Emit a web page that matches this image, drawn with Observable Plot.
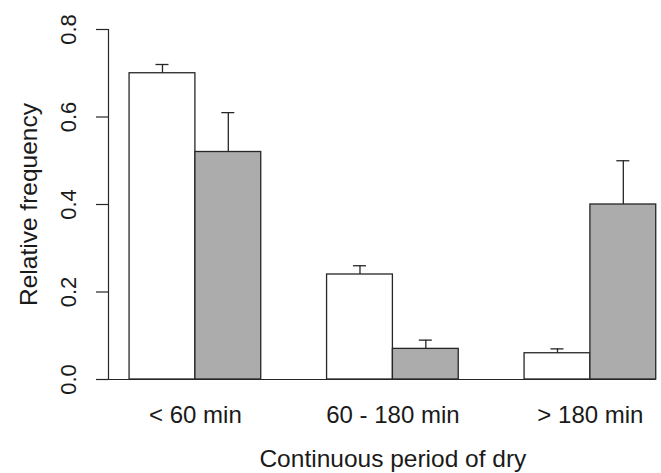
<!DOCTYPE html>
<html>
<head>
<meta charset="utf-8">
<script src="https://cdn.jsdelivr.net/npm/d3@7"></script>
<script src="https://cdn.jsdelivr.net/npm/@observablehq/plot@0.6"></script>
<style>
  html, body { margin: 0; padding: 0; background: #fff; }
</style>
</head>
<body>
<div id="chart"></div>
<script>
// ---- data ----
const categories = ["< 60 min", "60 - 180 min", "> 180 min"];
const series = ["first", "second"];
const seriesFill = ["#ffffff", "#acacac"];
const firstMeans = [0.70, 0.24, 0.06];
const firstUpper = [0.72, 0.26, 0.07];
const secondMeans = [0.52, 0.07, 0.40];
const secondUpper = [0.61, 0.09, 0.50];
const yTicks = [0, 0.2, 0.4, 0.6, 0.8];
const yTickLabels = ["0.0", "0.2", "0.4", "0.6", "0.8"];
const xTitle = "Continuous period of dry";
const yTitle = "Relative frequency";

// ---- grouped barplot layout (bar width 1, no space inside a group, 1 between groups) ----
const means = [firstMeans, secondMeans];
const uppers = [firstUpper, secondUpper];
const rows = [];
categories.forEach((cat, g) => {
  series.forEach((s, i) => {
    const left = 1 + g * (series.length + 1) + i;
    rows.push({cat, series: s, fill: seriesFill[i], left, right: left + 1,
               mid: left + 0.5, value: means[i][g], upper: uppers[i][g]});
  });
});
const groups = categories.map((cat, g) => {
  const left = 1 + g * (series.length + 1);
  return {cat, mid: left + series.length / 2};
});
const barsMin = d3.min(rows, d => d.left);
const barsMax = d3.max(rows, d => d.right);
const xmin = barsMin - 0.04 * (barsMax - barsMin);
const xmax = 9.08;
const font = "'Liberation Sans', Arial, Helvetica, sans-serif";
const ink = "#1a1a1a";

const chart = Plot.plot({
  width: 661,
  height: 473,
  marginLeft: 108,
  marginRight: 0,
  marginTop: 29,
  marginBottom: 94,
  x: {domain: [xmin, xmax], axis: null},
  y: {domain: [0, 0.8], axis: null},
  style: {fontFamily: font, color: ink, background: "#fff", overflow: "visible"},
  marks: [
    // bars
    Plot.rectY(rows, {x1: "left", x2: "right", y: "value", fill: d => d.fill,
                      stroke: "#262626", strokeWidth: 1.3}),
    // error bars
    Plot.ruleX(rows, {x: "mid", y1: "value", y2: "upper", stroke: "#262626", strokeWidth: 1.3}),
    Plot.ruleY(rows, {y: "upper", x1: "mid", x2: "mid", insetLeft: -6.5, insetRight: -6.5,
                      stroke: "#262626", strokeWidth: 1.3}),
    // baseline
    Plot.ruleY([0], {x1: xmin, x2: barsMax, insetLeft: -12, stroke: "#262626", strokeWidth: 1.2}),
    // y axis line and ticks
    Plot.ruleX([xmin], {y1: yTicks[0], y2: yTicks[yTicks.length - 1], stroke: "#262626", strokeWidth: 1.2}),
    Plot.ruleY(yTicks, {x1: xmin, x2: xmin, insetLeft: -12, stroke: "#262626", strokeWidth: 1.2}),
    // y tick labels (rotated, R style)
    Plot.text(yTicks, {y: d => d, frameAnchor: "left", textAnchor: "middle", dx: -40, rotate: -90,
                       text: (d, i) => yTickLabels[i], fontSize: 22, fill: ink}),
    // y title
    Plot.text([yTitle], {frameAnchor: "left", textAnchor: "middle", dx: -79, rotate: -90,
                         fontSize: 24.5, fill: ink}),
    // category labels
    Plot.text(groups, {x: "mid", y: 0, dy: 36, text: "cat", fontSize: 24, fill: ink}),
    // x title
    Plot.text([xTitle], {x: (barsMin + barsMax) / 2, y: 0, dy: 80, fontSize: 24.5, fill: ink})
  ]
});
document.getElementById("chart").appendChild(chart);
</script>
</body>
</html>
